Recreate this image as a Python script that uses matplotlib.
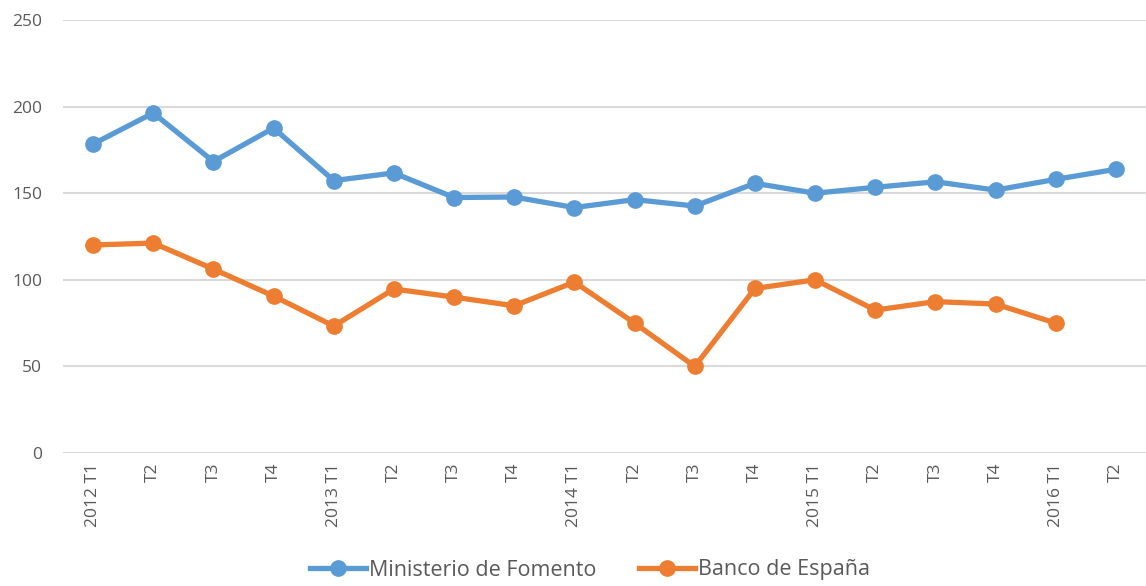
import matplotlib
matplotlib.use("Agg")
import matplotlib.pyplot as plt
from matplotlib.lines import Line2D

categories = ["2012 T1", "T2", "T3", "T4", "2013 T1", "T2", "T3", "T4",
              "2014 T1", "T2", "T3", "T4", "2015 T1", "T2", "T3", "T4",
              "2016 T1", "T2"]
fomento = [178.4, 196.3, 168.3, 187.6, 157.3, 161.7, 147.5, 147.8,
           141.7, 146.3, 142.6, 155.7, 150.0, 153.4, 156.6, 151.8,
           158.0, 163.8]
banco = [120.1, 121.2, 106.2, 90.6, 73.3, 94.7, 90.0, 85.0,
         98.7, 75.0, 50.0, 95.0, 100.0, 82.5, 87.4, 86.0, 75.0]
yticks = [0, 50, 100, 150, 200, 250]

plt.rcParams['font.family'] = ['Open Sans', 'DejaVu Sans']
text_color = "#595959"
blue = "#5B9BD5"
orange = "#ED7D31"

fig = plt.figure(figsize=(11.46, 5.86), dpi=100)
ax = fig.add_axes([63/1146, 1 - 453/586, 1 - 63/1146, (453 - 20)/586])

x = list(range(len(categories)))
ax.plot(x, fomento, color=blue, lw=3.8, marker='o', ms=11, solid_capstyle='round', zorder=3)
ax.plot(x[:len(banco)], banco, color=orange, lw=3.8, marker='o', ms=11, solid_capstyle='round', zorder=3)

ax.set_xlim(-0.5, len(categories) - 0.5)
ax.set_ylim(0, 250)
ax.set_yticks(yticks)
ax.set_xticks(x)
ax.set_xticklabels(categories, rotation=90, fontsize=12.5, color=text_color)
ax.tick_params(axis='y', labelsize=12.5, labelcolor=text_color, length=0, pad=15)
ax.tick_params(axis='x', length=0, pad=7)
ax.grid(axis='y', color='#D9D9D9', lw=1.5)
ax.set_axisbelow(True)
for s in ax.spines.values():
    s.set_visible(False)

handles = [Line2D([], [], color=blue, lw=3.8, marker='o', ms=11),
           Line2D([], [], color=orange, lw=3.8, marker='o', ms=11)]
fig.legend(handles, ["Ministerio de Fomento", "Banco de España"],
           loc='center', bbox_to_anchor=(590/1146, 1 - 570/586), ncol=2,
           frameon=False, fontsize=15.5, labelcolor=text_color,
           handlelength=2.6, handletextpad=0.15, columnspacing=2.0)

fig.savefig("out.png", dpi=100)
